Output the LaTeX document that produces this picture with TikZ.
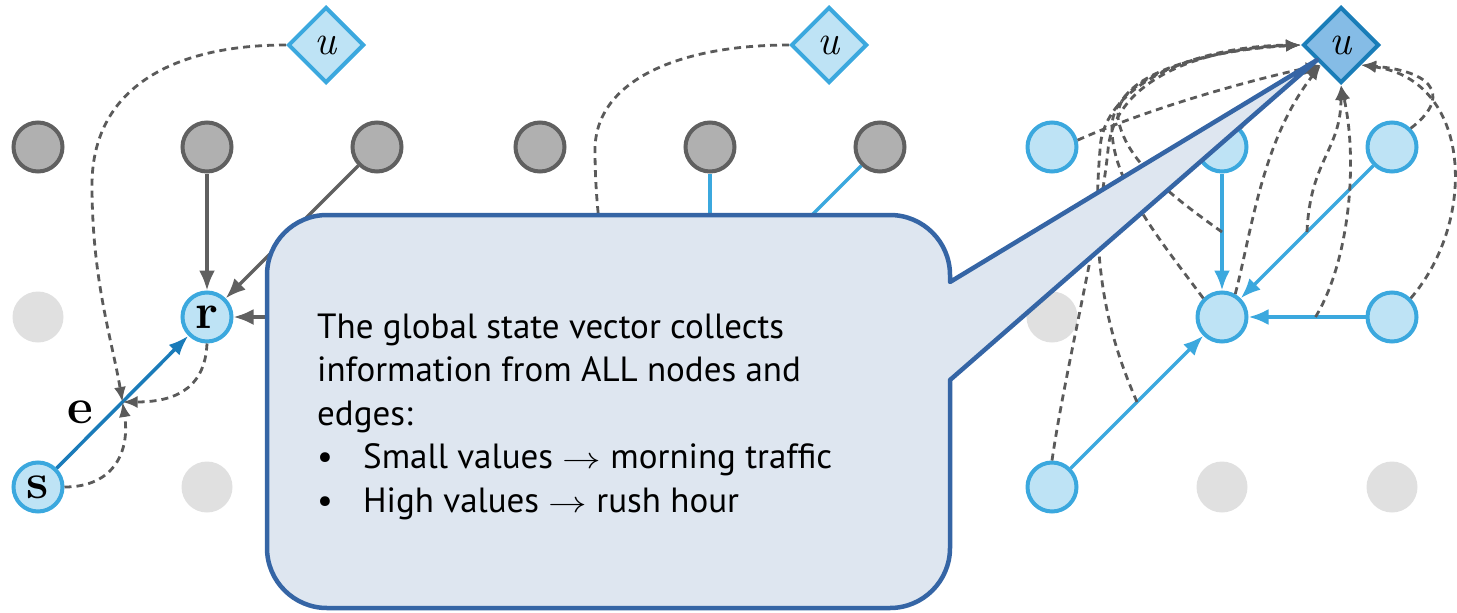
\documentclass[tikz,border=0pt]{standalone}
\usepackage{fontspec}
\newfontfamily\calloutfont{PT Sans}
\usetikzlibrary{shapes.geometric,arrows.meta,calc}

\definecolor{grayfill}{HTML}{B0B0B0}
\definecolor{graydraw}{HTML}{606060}
\definecolor{offfill}{HTML}{E0E0E0}
\definecolor{bluefill}{HTML}{BEE3F5}
\definecolor{bluedraw}{HTML}{3BA8DE}
\definecolor{deepfill}{HTML}{85BCE6}
\definecolor{deepdraw}{HTML}{1A7DB8}
\definecolor{edgeblue}{HTML}{1A7BB9}
\definecolor{dashgray}{HTML}{5A5A5A}
\definecolor{callfill}{HTML}{DEE6F0}
\definecolor{calldraw}{HTML}{3565A5}

% thin arrow used inside the bubble text
\newcommand{\maps}{\scalebox{1.55}[1.2]{\fontsize{24.88}{30}\selectfont$\rightarrow$}}

\begin{document}
\begin{tikzpicture}[x=1pt,y=-1pt,
  graynode/.style={circle, fill=grayfill, draw=graydraw, line width=4pt,
    minimum size=49pt, inner sep=0pt},
  offnode/.style={circle, fill=offfill, minimum size=51pt, inner sep=0pt},
  bluenode/.style={circle, fill=bluefill, draw=bluedraw, line width=4pt,
    minimum size=49pt, inner sep=0pt, font=\fontsize{50}{50}\selectfont\bfseries},
  glob/.style={diamond, aspect=1, fill=bluefill, draw=bluedraw, line width=4pt,
    minimum size=76pt, inner sep=0pt, font=\fontsize{42}{42}\selectfont\itshape},
  globon/.style={glob, fill=deepfill, draw=deepdraw},
  grayedge/.style={draw=graydraw, line width=3.3pt, -{Latex[length=20pt,width=16pt]}},
  blueedge/.style={draw=bluedraw, line width=3.5pt, -{Latex[length=20pt,width=16pt]}},
  darkedge/.style={draw=edgeblue, line width=3.5pt, -{Latex[length=20pt,width=15pt]}},
  agg/.style={draw=dashgray, line width=2.8pt, dash pattern=on 7pt off 5pt,
    -{Latex[length=15pt,width=12pt]}},
  callbox/.style={fill=callfill, draw=calldraw, line width=4.5pt, line join=round},
  calltext/.style={font=\calloutfont\fontsize{35}{40}\selectfont, inner sep=0pt,
    anchor=base west},
]
\useasboundingbox (0,0) rectangle (1457,613);

% ---------- left panel: edge update ----------
\node[glob] (u1) at (326,45) {u};
\node[graynode] (a11) at (38,147) {};
\node[graynode] (a12) at (207,147) {};
\node[graynode] (a13) at (377,147) {};
\node[offnode] (a21) at (38,317) {};
\node[bluenode] (r) at (207,317) {r};
\node[bluenode] (s) at (38,487) {s};
\node[offnode] (a32) at (207,487) {};
\coordinate (a23) at (377,317);

\draw[grayedge] (a12) -- (r);
\draw[grayedge] (a13) -- (r);
\draw[grayedge] (a23) -- (r);
\draw[darkedge] (s) -- coordinate (em) (r);
\node[font=\fontsize{50}{50}\selectfont\bfseries, inner sep=0pt] (elabel) at (80,412) {e};

\draw[agg] (u1.west) .. controls (170,45) and (92,90) .. (92,185)
  .. controls (92,280) and (112,340) .. (em);
\draw[agg] (r.south) .. controls (205,392) and (170,402) .. (em);
\draw[agg] (s.east) .. controls (115,487) and (130,450) .. (em);

% ---------- middle panel: node update ----------
\node[glob] (u2) at (829,45) {u};
\node[graynode] (b11) at (540,147) {};
\node[graynode] (b12) at (710,147) {};
\node[graynode] (b13) at (880,147) {};
\coordinate (b22) at (710,317);
\coordinate (b31) at (540,487);
\draw[blueedge] (b12) -- (b22);
\draw[blueedge] (b13) -- (b22);
\draw[agg] (u2.west) .. controls (680,45) and (595,80) .. (595,150)
  .. controls (595,250) and (620,330) .. ($(b31)!0.5!(b22)$);

% ---------- right panel: global update ----------
\node[globon] (u3) at (1341,45) {u};
\node[bluenode] (c11) at (1052,147) {};
\node[bluenode] (c12) at (1222,147) {};
\node[bluenode] (c13) at (1392,147) {};
\node[offnode] (c21) at (1052,317) {};
\node[bluenode] (c22) at (1222,317) {};
\node[bluenode] (c23) at (1392,317) {};
\node[bluenode] (c31) at (1052,487) {};
\node[offnode] (c32) at (1222,487) {};
\node[offnode] (c33) at (1392,487) {};

\draw[blueedge] (c12) -- (c22);
\draw[blueedge] (c13) -- (c22);
\draw[blueedge] (c23) -- (c22);
\draw[blueedge] (c31) -- (c22);

\coordinate (mBE) at ($(c12)!0.5!(c22)$);
\coordinate (mCE) at ($(c13)!0.5!(c22)$);
\coordinate (mFE) at ($(c23)!0.45!(c22)$);
\coordinate (mGE) at ($(c31)!0.5!(c22)$);

% everything flows into the global vector
\draw[agg] (c11.15) .. controls (1150,108) and (1250,80) .. (u3.south west);
\draw[agg] (c31.north) .. controls (1065,370) and (1100,230) .. (1108,150)
  .. controls (1114,80) and (1200,48) .. (u3.west);
\draw[agg] (mGE) .. controls (1110,340) and (1090,270) .. (1100,150)
  .. controls (1102,85) and (1195,46) .. (u3.west);
\draw[agg] (mBE) .. controls (1170,195) and (1125,160) .. (1118,118)
  .. controls (1115,75) and (1205,50) .. (u3.west);
\draw[agg] (c22.135) .. controls (1160,240) and (1110,180) .. (1112,125)
  .. controls (1114,78) and (1200,50) .. (u3.west);
\draw[agg] (c22.60) .. controls (1252,230) and (1262,140) .. (u3.south west);
\draw[agg] (c12.45) .. controls (1265,100) and (1290,80) .. (u3.south west);
\draw[agg] (mCE) .. controls (1310,160) and (1341,150) .. (u3.south);
\draw[agg] (mFE) .. controls (1350,260) and (1358,160) .. (u3.south);
\draw[agg] (c13.45) .. controls (1448,100) and (1440,72) .. (u3.south east);
\draw[agg] (c23.45) .. controls (1478,220) and (1472,80) .. (u3.south east);

% ---------- speech bubble ----------
\draw[callbox] (327,215) -- (890,215)
  .. controls (923.1,215) and (950,241.9) .. (950,275) -- (950,282)
  -- (1317,60) -- (950,380) -- (950,548)
  .. controls (950,581.1) and (923.1,608) .. (890,608) -- (327,608)
  .. controls (293.9,608) and (267,581.1) .. (267,548) -- (267,275)
  .. controls (267,241.9) and (293.9,215) .. (327,215) -- cycle;

\node[calltext] (t1) at (317,338) {The global state vector collects};
\node[calltext] (t2) at (317,381.5) {information from ALL nodes and};
\node[calltext] (t3) at (317,425) {edges:};
\node[calltext] (b1) at (317,468.5) {\textbullet};
\node[calltext] (t4) at (363,468.5) {Small values \maps{} morning traffic};
\node[calltext] (b2) at (317,512) {\textbullet};
\node[calltext] (t5) at (363,512) {High values \maps{} rush hour};
\end{tikzpicture}
\end{document}
